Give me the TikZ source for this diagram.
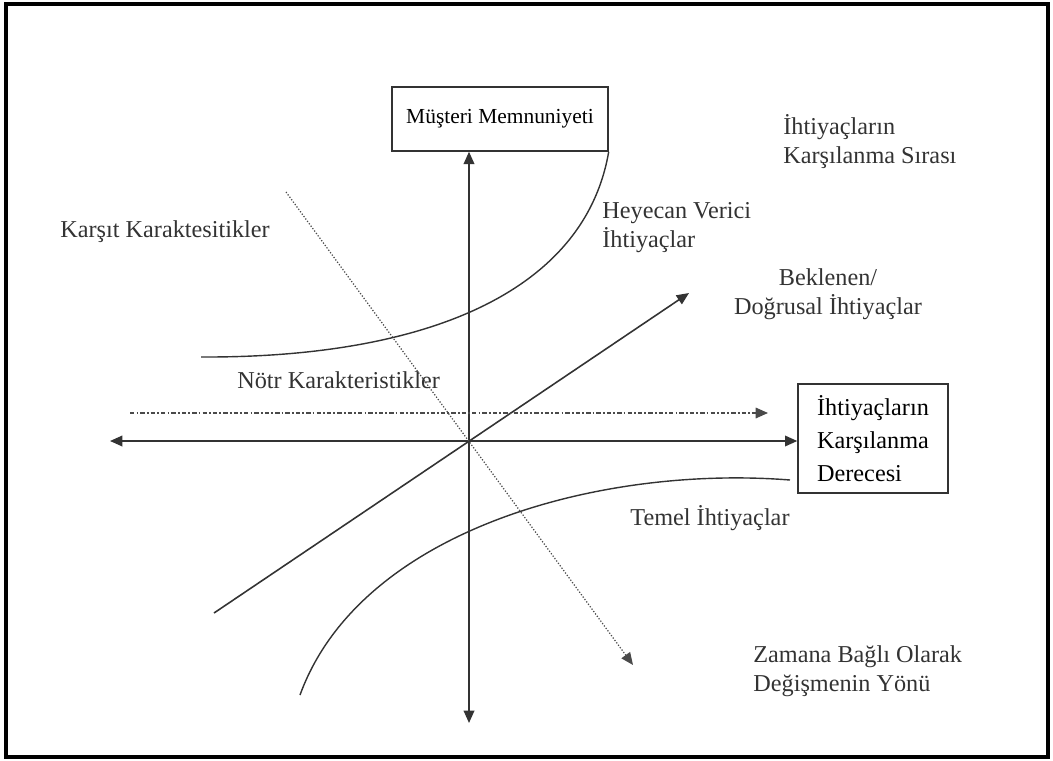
\documentclass[tikz,border=0pt]{standalone}
\usepackage{fontspec}
\setmainfont{Liberation Serif}
\usetikzlibrary{arrows.meta, positioning}
\definecolor{ScanInk}{HTML}{333333}
\definecolor{ScanGray}{HTML}{4A4A4A}

\begin{document}
\begin{tikzpicture}[x=0.02cm, y=-0.02cm, font=\fontsize{13.8}{16.5}\selectfont,
    axis/.style={ScanInk, line width=1pt, -{Triangle[length=7pt, width=6pt]}},
    curve/.style={ScanInk, line width=0.8pt},
    boxed/.style={draw=ScanInk, line width=0.8pt, inner sep=0pt},
    label/.style={text=ScanInk, inner sep=0pt, anchor=west, align=left}]
    \useasboundingbox (0,0) rectangle (1053,760);
    % Frame
    \draw[line width=2pt] (6,4) rectangle (1048,757);

    % Boxes
    \node[boxed, minimum width=216*0.02cm, minimum height=64*0.02cm,
          font=\fontsize{12.2}{14}\selectfont] (sat) at (500,119) {Müşteri Memnuniyeti};
    \node[boxed, minimum width=150*0.02cm, minimum height=109*0.02cm, align=left,
          font=\fontsize{13.8}{18.8}\selectfont] (deg) at (873,438.5) {İhtiyaçların\\Karşılanma\\Derecesi};

    % Points
    \coordinate (O) at (469,441);
    \coordinate (west) at (110,441);
    \coordinate (south) at (469,723);
    \coordinate (lin start) at (214,613);
    \coordinate (lin end) at (689,293);
    \coordinate (time start) at (286,192);
    \coordinate (time end) at (633,665);
    \coordinate (neutral start) at (130,413);
    \coordinate (neutral end) at (768,413);

    % Axes
    \draw[axis] (O) -- (O |- sat.south);
    \draw[axis] (O) -- (south);
    \draw[axis] (O) -- (west);
    \draw[axis] (O) -- (O -| deg.west);

    % Linear needs and direction of change
    \draw[axis, line width=0.9pt] (lin start) -- (lin end);
    \draw[ScanGray, line width=0.7pt, densely dotted, -{Triangle[length=7pt, width=6pt]}] (time start) -- (time end);
    \draw[ScanGray, line width=0.9pt, dash pattern=on 2.5pt off 1.2pt on 1pt off 1.2pt,
          -{Triangle[length=7pt, width=6pt]}] (neutral start) -- (neutral end);

    % Curves
    \coordinate (exc start) at (201,357);
    \draw[curve] (exc start) .. controls (430,358) and (585,290) .. (sat.south east);
    \coordinate (basic start) at (300,695);
    \coordinate (basic end) at (790,480);
    \draw[curve] (basic start) .. controls (360,530) and (600,465) .. (basic end);

    % Labels
    \node[label] (order) at (783,142) {İhtiyaçların\\Karşılanma Sırası};
    \node[label] (opp) at (60,232) {Karşıt Karaktesitikler};
    \node[label] (exc) at (602,228) {Heyecan Verici\\İhtiyaçlar};
    \node[label, anchor=center, align=center] (lin) at (828,294) {Beklenen/\\Doğrusal İhtiyaçlar};
    \node[label] (neutral) at (237,380) {Nötr Karakteristikler};
    \node[label] (basic) at (630,518) {Temel İhtiyaçlar};
    \node[label] (time) at (753,671) {Zamana Bağlı Olarak\\Değişmenin Yönü};
\end{tikzpicture}
\end{document}
